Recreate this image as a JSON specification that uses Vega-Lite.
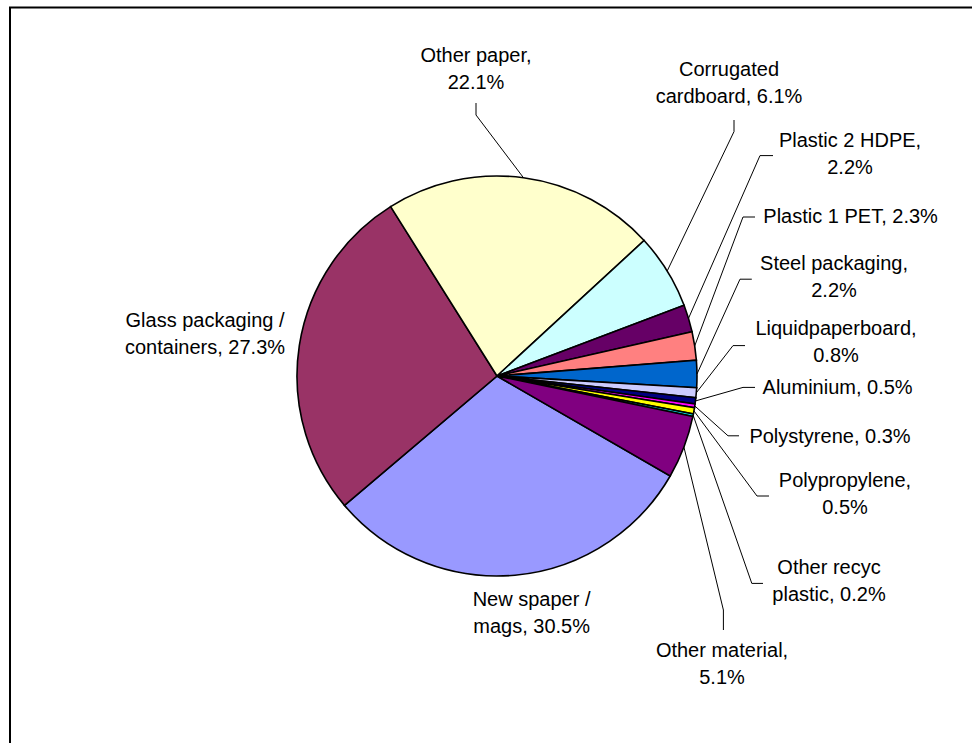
{
  "$schema": "https://vega.github.io/schema/vega-lite/v6.json",
  "width": 962,
  "height": 735.5,
  "autosize": "none",
  "padding": {"left": 10, "top": 7.5, "right": 0, "bottom": 0},
  "background": "white",
  "config": {
    "view": {"stroke": "#000", "strokeWidth": 2, "strokeDash": [962, 1697.5, 735.5, 10]},
    "font": "Liberation Sans"
  },
  "datasets": {
    "shares": [
      {"material": "New spaper / mags", "share": 30.5},
      {"material": "Glass packaging / containers", "share": 27.3},
      {"material": "Other paper", "share": 22.1},
      {"material": "Corrugated cardboard", "share": 6.1},
      {"material": "Plastic 2 HDPE", "share": 2.2},
      {"material": "Plastic 1 PET", "share": 2.3},
      {"material": "Steel packaging", "share": 2.2},
      {"material": "Liquidpaperboard", "share": 0.8},
      {"material": "Aluminium", "share": 0.5},
      {"material": "Polystyrene", "share": 0.3},
      {"material": "Polypropylene", "share": 0.5},
      {"material": "Other recyc plastic", "share": 0.2},
      {"material": "Other material", "share": 5.1}
    ],
    "labelLayout": [
      {"material": "New spaper / mags", "labelX": 0.173, "labelY": -1.15, "breakAt": 12},
      {"material": "Glass packaging / containers", "labelX": -1.46, "labelY": 0.245, "breakAt": 17},
      {"material": "Other paper", "labelX": -0.105, "labelY": 1.57, "breakAt": 12, "bendX": -0.105, "bendY": 1.305, "tipX": -0.105, "tipY": 1.365},
      {"material": "Corrugated cardboard", "labelX": 1.16, "labelY": 1.5, "breakAt": 10, "bendX": 1.185, "bendY": 1.222, "tipX": 1.185, "tipY": 1.28},
      {"material": "Plastic 2 HDPE", "labelX": 1.765, "labelY": 1.147, "breakAt": 15, "bendX": 1.315, "bendY": 1.102, "tipX": 1.38, "tipY": 1.102},
      {"material": "Plastic 1 PET", "labelX": 1.768, "labelY": 0.764, "bendX": 1.23, "bendY": 0.795, "tipX": 1.29, "tipY": 0.795},
      {"material": "Steel packaging", "labelX": 1.685, "labelY": 0.53, "breakAt": 16, "bendX": 1.215, "bendY": 0.484, "tipX": 1.274, "tipY": 0.484},
      {"material": "Liquidpaperboard", "labelX": 1.695, "labelY": 0.205, "breakAt": 17, "bendX": 1.18, "bendY": 0.152, "tipX": 1.24, "tipY": 0.152},
      {"material": "Aluminium", "labelX": 1.703, "labelY": -0.092, "bendX": 1.23, "bendY": -0.057, "tipX": 1.29, "tipY": -0.057},
      {"material": "Polystyrene", "labelX": 1.665, "labelY": -0.334, "bendX": 1.155, "bendY": -0.299, "tipX": 1.21, "tipY": -0.299},
      {"material": "Polypropylene", "labelX": 1.74, "labelY": -0.554, "breakAt": 14, "bendX": 1.3, "bendY": -0.6, "tipX": 1.36, "tipY": -0.6},
      {"material": "Other recyc plastic", "labelX": 1.66, "labelY": -0.99, "breakAt": 11, "bendX": 1.274, "bendY": -1.037, "tipX": 1.33, "tipY": -1.037},
      {"material": "Other material", "labelX": 1.125, "labelY": -1.404, "breakAt": 15, "bendX": 1.132, "bendY": -1.17, "tipX": 1.132, "tipY": -1.27}
    ]
  },
  "data": {"name": "shares"},
  "transform": [
    {"window": [{"op": "row_number", "as": "idx"}]},
    {"joinaggregate": [{"op": "sum", "field": "share", "as": "total"}]},
    {"window": [{"op": "sum", "field": "share", "as": "cum"}], "sort": [{"field": "idx"}], "frame": [null, 0]},
    {"calculate": "2*PI/3 + 2*PI*(datum.cum - datum.share/2)/datum.total", "as": "midAngle"},
    {"calculate": "sin(datum.midAngle)", "as": "edgeX"},
    {"calculate": "cos(datum.midAngle)", "as": "edgeY"},
    {"lookup": "material", "from": {"data": {"name": "labelLayout"}, "key": "material", "fields": ["labelX", "labelY", "breakAt", "bendX", "bendY", "tipX", "tipY"]}},
    {"calculate": "datum.material + ', ' + format(datum.share, '.1f') + '%'", "as": "labelFull"},
    {"calculate": "isValid(datum.breakAt) ? substring(datum.labelFull, 0, datum.breakAt) + '\\n' + substring(datum.labelFull, datum.breakAt + 1) : datum.labelFull", "as": "labelText"}
  ],
  "layer": [
    {
      "mark": {"type": "arc", "outerRadius": 200, "stroke": "#000", "strokeWidth": 1.6},
      "encoding": {
        "theta": {"field": "share", "type": "quantitative", "stack": true, "scale": {"range": [2.0943951, 8.3775804]}},
        "order": {"field": "idx", "type": "quantitative"},
        "color": {
          "field": "material",
          "type": "nominal",
          "legend": null,
          "scale": {
            "domain": ["New spaper / mags", "Glass packaging / containers", "Other paper", "Corrugated cardboard", "Plastic 2 HDPE", "Plastic 1 PET", "Steel packaging", "Liquidpaperboard", "Aluminium", "Polystyrene", "Polypropylene", "Other recyc plastic", "Other material"],
            "range": ["#9999FF", "#993366", "#FFFFCC", "#CCFFFF", "#660066", "#FF8080", "#0066CC", "#CCCCFF", "#000080", "#FF00FF", "#FFFF00", "#00FFFF", "#800080"]
          }
        },
        "x": {"datum": 0, "type": "quantitative", "stack": null, "axis": null, "scale": {"domain": [-2.435, 2.375], "nice": false, "zero": false}},
        "y": {"datum": 0, "type": "quantitative", "stack": null, "axis": null, "scale": {"domain": [-1.835, 1.8425], "nice": false, "zero": false}}
      }
    },
    {
      "transform": [{"filter": "isValid(datum.bendX)"}],
      "mark": {"type": "rule", "stroke": "#000", "strokeWidth": 1},
      "encoding": {
        "x": {"field": "edgeX", "type": "quantitative", "axis": null},
        "y": {"field": "edgeY", "type": "quantitative", "axis": null},
        "x2": {"field": "bendX"},
        "y2": {"field": "bendY"}
      }
    },
    {
      "transform": [{"filter": "isValid(datum.bendX)"}],
      "mark": {"type": "rule", "stroke": "#000", "strokeWidth": 1},
      "encoding": {
        "x": {"field": "bendX", "type": "quantitative", "axis": null},
        "y": {"field": "bendY", "type": "quantitative", "axis": null},
        "x2": {"field": "tipX"},
        "y2": {"field": "tipY"}
      }
    },
    {
      "mark": {"type": "text", "align": "center", "baseline": "alphabetic", "fontSize": 20, "lineHeight": 27, "lineBreak": "\n", "fill": "#000"},
      "encoding": {
        "x": {"field": "labelX", "type": "quantitative", "axis": null},
        "y": {"field": "labelY", "type": "quantitative", "axis": null},
        "text": {"field": "labelText"}
      }
    }
  ]
}
